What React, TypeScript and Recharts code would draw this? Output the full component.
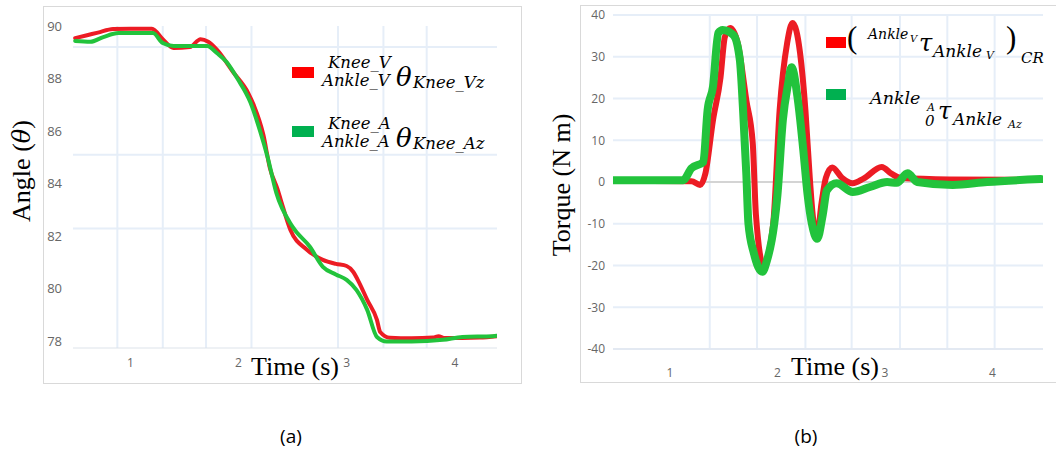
import React from 'react';
import { LineChart, Line, XAxis, YAxis, CartesianGrid, Legend, ReferenceLine } from 'recharts';

// ---------- data ----------
const timeTicks = [1, 2, 3, 4];
const angleTicks = [78, 80, 82, 84, 86, 88, 90];
const torqueTicks = [-40, -30, -20, -10, 0, 10, 20, 30, 40];

// (a) knee angle, virtual (red)
const angleVirtualT = [0.49, 0.6, 0.7, 0.84, 1.0, 1.2, 1.3, 1.4, 1.55, 1.65, 1.72, 1.8, 1.95, 2.09, 2.14, 2.23, 2.29, 2.36, 2.39, 2.48, 2.63, 2.78, 2.9, 3.0, 3.06, 3.12, 3.19, 3.28, 3.31, 3.4, 3.6, 3.8, 3.85, 3.9, 4.23, 4.39];
const angleVirtualV = [89.54, 89.65, 89.75, 89.89, 89.9, 89.9, 89.5, 89.16, 89.2, 89.5, 89.4, 89.1, 88.25, 87.45, 87.0, 85.86, 84.6, 83.8, 83.4, 82.24, 81.5, 81.1, 80.95, 80.87, 80.65, 80.2, 79.58, 78.82, 78.36, 78.14, 78.12, 78.15, 78.2, 78.13, 78.15, 78.2];
// (a) knee angle, actual (green)
const angleActualT = [0.49, 0.63, 0.75, 0.89, 1.21, 1.3, 1.4, 1.71, 1.8, 1.89, 1.99, 2.11, 2.2, 2.27, 2.35, 2.5, 2.66, 2.78, 2.9, 3.0, 3.09, 3.19, 3.28, 3.37, 3.6, 3.89, 4.07, 4.35, 4.39];
const angleActualV = [89.43, 89.4, 89.58, 89.73, 89.73, 89.35, 89.24, 89.24, 88.97, 88.63, 88.0, 87.1, 86.0, 85.0, 83.65, 82.36, 81.6, 80.84, 80.55, 80.34, 79.96, 79.2, 78.17, 78.0, 78.0, 78.06, 78.17, 78.2, 78.22];

// (b) ankle torque, virtual CR (red)
const torqueVirtualT = [0.47, 1.2, 1.28, 1.33, 1.4, 1.47, 1.51, 1.56, 1.63, 1.71, 1.77, 1.8, 1.87, 1.96, 2.02, 2.09, 2.14, 2.21, 2.26, 2.3, 2.33, 2.37, 2.41, 2.45, 2.51, 2.6, 2.7, 2.8, 2.97, 3.06, 3.14, 3.6, 4.47];
const torqueVirtualV = [0.3, 0.2, -0.7, 2.1, 14.8, 25, 34.7, 36.9, 33.3, 19.6, 9.3, -8, -20, -10, 17.2, 33.3, 38.1, 30.9, 17.2, 1.2, -8.4, -12.6, -5, 1, 3.5, 1.0, -0.3, 0.8, 3.6, 2.0, 1.0, 0.6, 0.5];
// (b) ankle torque, actual (green)
const torqueActualT = [0.47, 1.12, 1.2, 1.31, 1.35, 1.4, 1.45, 1.49, 1.59, 1.65, 1.68, 1.71, 1.73, 1.78, 1.86, 1.9, 1.97, 2.0, 2.05, 2.1, 2.13, 2.19, 2.24, 2.28, 2.32, 2.37, 2.42, 2.46, 2.55, 2.7, 2.86, 3.02, 3.11, 3.21, 3.3, 3.63, 3.95, 4.45];
const torqueActualV = [0.4, 0.4, 3.3, 4.8, 17.2, 22.8, 35.7, 36.4, 35.2, 29.2, 17.2, 2, -10, -17, -21.5, -19, -10, -3, 14.8, 23.7, 27.5, 19.6, 7.7, -3, -10, -13.6, -8, -2, -0.3, -2.4, -1.2, 0, -0.2, 2.1, 0, -0.7, 0, 0.7];

// faint background grid lines of the source screenshots
const angleGridY = [90, 89.2, 85.1, 82.3];
const angleGridX = [0.88, 1.3, 1.7, 2.12, 2.92, 3.34, 3.74];
const torqueGridX = [1.37, 1.81, 2.26, 2.69, 3.14, 3.58, 4.02];

// ---------- styles ----------
const RED = '#ec1c24';
const GREEN = '#22c33c';
const RED_KEY = '#ff0000';
const GREEN_KEY = '#00b050';
const TICK = { fill: '#666666', fontSize: 12, fontFamily: '"Open Sans", sans-serif' };
const MATH = '"DejaVu Serif", serif';
const SERIF = '"Liberation Serif", "Times New Roman", serif';

const pts = (t: number[], v: number[]) => t.map((x, i) => ({ t: x, v: v[i] }));

type Piece = { text: string; x: number; cy: number; size: number; k?: number; upright?: boolean };

const Pieces = ({ items }: { items: Piece[] }) => (
  <>
    {items.map((p, i) => (
      <span
        key={i}
        style={{
          position: 'absolute',
          left: p.x,
          top: p.cy - (p.k ?? 0.5) * p.size,
          fontSize: p.size,
          lineHeight: 1,
          fontFamily: p.upright ? SERIF : MATH,
          fontStyle: p.upright ? 'normal' : 'italic',
          whiteSpace: 'nowrap',
          color: '#000',
        }}
      >
        {p.text}
      </span>
    ))}
  </>
);

const angleLabels: Record<string, Piece[]> = {
  virtual: [
    { text: 'Knee_V', x: 38, cy: 13, size: 16.5 },
    { text: 'Ankle_V', x: 32, cy: 31, size: 16.5 },
    { text: 'θ', x: 106, cy: 27, size: 26 },
    { text: 'Knee_Vz', x: 123, cy: 33, size: 16.5 },
  ],
  actual: [
    { text: 'Knee_A', x: 38, cy: 74, size: 16.5 },
    { text: 'Ankle_A', x: 32, cy: 92, size: 16.5 },
    { text: 'θ', x: 106, cy: 88, size: 26 },
    { text: 'Knee_Az', x: 123, cy: 94, size: 16.5 },
  ],
};

const torqueLabels: Record<string, Piece[]> = {
  virtual: [
    { text: '(', x: 23, cy: 21, size: 31, k: 0.6, upright: true },
    { text: 'Ankle', x: 44, cy: 14, size: 14 },
    { text: 'V', x: 86, cy: 19, size: 10 },
    { text: 'τ', x: 95, cy: 26, size: 24, k: 0.62 },
    { text: 'Ankle', x: 109, cy: 31, size: 17 },
    { text: 'V', x: 162, cy: 35, size: 11 },
    { text: ')', x: 182, cy: 21, size: 31, k: 0.6, upright: true },
    { text: 'CR', x: 197, cy: 38, size: 15 },
  ],
  actual: [
    { text: 'Ankle', x: 46, cy: 79, size: 17.5 },
    { text: 'A', x: 103, cy: 87, size: 11 },
    { text: '0', x: 101, cy: 101, size: 15 },
    { text: 'τ', x: 114, cy: 94, size: 24, k: 0.62 },
    { text: 'Ankle', x: 129, cy: 99, size: 17 },
    { text: 'Az', x: 184, cy: 104, size: 11 },
  ],
};

const keyColor: Record<string, string> = { virtual: RED_KEY, actual: GREEN_KEY };

const makeLegend = (labels: Record<string, Piece[]>, swatchTop: Record<string, number>, swatchW: number) => (props: any) => {
  const payload = (props.payload || []) as any[];
  return (
    <div style={{ position: 'relative', width: 232, height: 115 }}>
      {payload.map((entry) => {
        const id = String(entry.value);
        return (
          <React.Fragment key={id}>
            <span
              style={{
                position: 'absolute',
                left: 2,
                top: swatchTop[id] ?? 0,
                width: swatchW,
                height: 11,
                background: keyColor[id] || entry.color,
              }}
            />
            <Pieces items={labels[id] || []} />
          </React.Fragment>
        );
      })}
    </div>
  );
};

const AngleLegend = makeLegend(angleLabels, { virtual: 17, actual: 76 }, 22);
const TorqueLegend = makeLegend(torqueLabels, { virtual: 17, actual: 69 }, 20);

const frame: React.CSSProperties = {
  position: 'absolute',
  border: '1px solid #d9d9d9',
  boxSizing: 'border-box',
};

const textAbs = (left: number, top: number, extra: React.CSSProperties = {}): React.CSSProperties => ({
  position: 'absolute',
  left,
  top,
  whiteSpace: 'nowrap',
  color: '#000',
  lineHeight: 1,
  ...extra,
});

export default function App() {
  return (
    <div style={{ position: 'absolute', left: 0, top: 0, width: 1056, height: 459, background: '#fff', overflow: 'hidden' }}>
      {/* panel frames */}
      <div style={{ ...frame, left: 43, top: 6, width: 479, height: 378 }} />
      <div style={{ ...frame, left: 580, top: 5, width: 477, height: 378 }} />

      {/* (a) angle chart */}
      <div style={{ position: 'absolute', left: 43, top: 6 }}>
        <LineChart width={478} height={377} margin={{ top: 20, right: 24, bottom: 0, left: 0 }}>
          <CartesianGrid
            stroke="#e6eef8"
            strokeWidth={2}
            horizontalValues={angleGridY}
            verticalValues={angleGridX}
          />
          <XAxis
            type="number"
            dataKey="t"
            domain={[0.47, 4.39]}
            ticks={timeTicks}
            allowDataOverflow
            height={35}
            tickLine={false}
            tickMargin={4}
            axisLine={{ stroke: '#dde3ea' }}
            tick={TICK}
          />
          <YAxis
            type="number"
            dataKey="v"
            domain={[77.75, 90]}
            ticks={angleTicks}
            allowDataOverflow
            width={30}
            tickLine={false}
            axisLine={false}
            tickMargin={5}
            tick={{ ...TICK, fontSize: 13 }}
          />
          <Legend
            layout="vertical"
            align="center"
            verticalAlign="middle"
            wrapperStyle={{ left: 247, top: 44, width: 232, height: 115 }}
            content={AngleLegend}
          />
          <Line
            name="virtual"
            data={pts(angleVirtualT, angleVirtualV)}
            dataKey="v"
            type="monotone"
            stroke={RED}
            strokeWidth={4}
            dot={false}
            isAnimationActive={false}
            strokeLinecap="round"
            strokeLinejoin="round"
          />
          <Line
            name="actual"
            data={pts(angleActualT, angleActualV)}
            dataKey="v"
            type="monotone"
            stroke={GREEN}
            strokeWidth={4}
            dot={false}
            isAnimationActive={false}
            strokeLinecap="round"
            strokeLinejoin="round"
          />
        </LineChart>
      </div>

      {/* (b) torque chart */}
      <div style={{ position: 'absolute', left: 580, top: 5 }}>
        <LineChart width={476} height={377} margin={{ top: 10, right: 13, bottom: 0, left: 0 }}>
          <CartesianGrid stroke="#e6eef8" strokeWidth={2} horizontalValues={torqueTicks} verticalValues={torqueGridX} />
          <ReferenceLine y={0} stroke="#d4d4d4" strokeWidth={2} />
          <XAxis
            type="number"
            dataKey="t"
            domain={[0.47, 4.47]}
            ticks={timeTicks}
            allowDataOverflow
            height={33}
            tickLine={false}
            tickMargin={13}
            axisLine={{ stroke: '#e3e9f2', strokeWidth: 2 }}
            tick={TICK}
          />
          <YAxis
            type="number"
            dataKey="v"
            domain={[-40, 40]}
            ticks={torqueTicks}
            allowDataOverflow
            width={33}
            tickLine={false}
            axisLine={false}
            tickMargin={2}
            tick={TICK}
          />
          <Legend
            layout="vertical"
            align="center"
            verticalAlign="middle"
            wrapperStyle={{ left: 244, top: 15, width: 232, height: 115 }}
            content={TorqueLegend}
          />
          <Line
            name="virtual"
            data={pts(torqueVirtualT, torqueVirtualV)}
            dataKey="v"
            type="monotone"
            stroke={RED}
            strokeWidth={6}
            dot={false}
            isAnimationActive={false}
            strokeLinecap="round"
            strokeLinejoin="round"
          />
          <Line
            name="actual"
            data={pts(torqueActualT, torqueActualV)}
            dataKey="v"
            type="monotone"
            stroke={GREEN}
            strokeWidth={8}
            dot={false}
            isAnimationActive={false}
            strokeLinecap="round"
            strokeLinejoin="round"
          />
        </LineChart>
      </div>

      {/* axis titles */}
      <div
        style={textAbs(22, 171, {
          fontFamily: SERIF,
          fontSize: 26,
          transform: 'translate(-50%, -50%) rotate(-90deg)',
        })}
      >
        Angle (<span style={{ fontFamily: MATH, fontStyle: 'italic', fontSize: 24 }}>θ</span>)
      </div>
      <div
        style={textAbs(562, 185, {
          fontFamily: SERIF,
          fontSize: 26,
          transform: 'translate(-50%, -50%) rotate(-90deg)',
        })}
      >
        Torque (N m)
      </div>
      <div style={textAbs(295, 354, { fontFamily: SERIF, fontSize: 26, transform: 'translateX(-50%)' })}>Time (s)</div>
      <div style={textAbs(835, 354, { fontFamily: SERIF, fontSize: 26, transform: 'translateX(-50%)' })}>Time (s)</div>

      {/* panel captions */}
      <div style={textAbs(291, 427, { fontFamily: '"Open Sans", sans-serif', fontSize: 19, transform: 'translateX(-50%)' })}>(a)</div>
      <div style={textAbs(806, 427, { fontFamily: '"Open Sans", sans-serif', fontSize: 19, transform: 'translateX(-50%)' })}>(b)</div>
    </div>
  );
}
